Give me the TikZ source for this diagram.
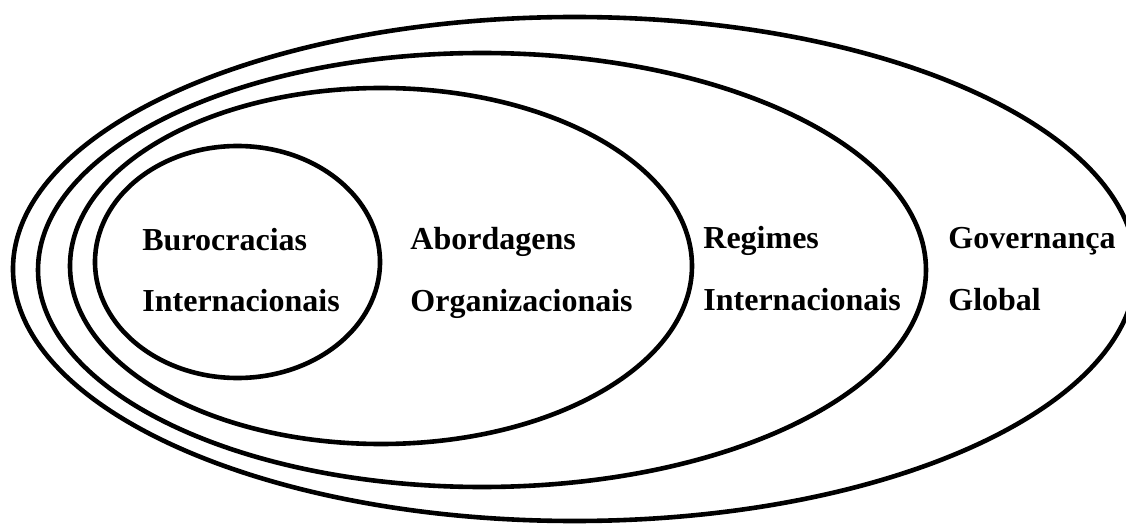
\documentclass[tikz,border=0pt]{standalone}
\usepackage{fontspec}
\setmainfont{Liberation Serif}
\usetikzlibrary{
  positioning,
  shapes.geometric
}

\begin{document}
\begin{tikzpicture}[
      x=0.5pt, y=-0.5pt,
      anel/.style={draw=black, ellipse, line width=2.3pt, inner sep=0pt},
      rotulo/.style={anchor=base west, align=left, inner sep=0pt,
                     font=\fontsize{16}{31}\selectfont\bfseries}
  ]
      \useasboundingbox (0,0) rectangle (1126,524);

      % Elipses aninhadas (de fora para dentro)
      \node[anel, minimum width=561.5pt, minimum height=252pt] (gov) at (574.5,269) {};
      \node[anel, minimum width=444pt, minimum height=217pt] (reg) at (482,270) {};
      \node[anel, minimum width=311pt, minimum height=178pt] (abo) at (381,266) {};
      \node[anel, minimum width=142.5pt, minimum height=116pt] (bur) at (237.5,262) {};

      % Rótulos de cada nível (âncora na linha de base da segunda linha)
      \node[rotulo] (tbur) at (142,312) {Burocracias\\Internacionais};
      \node[rotulo] (tabo) at (410,311) {Abordagens\\Organizacionais};
      \node[rotulo] (treg) at (703,310) {Regimes\\Internacionais};
      \node[rotulo] (tgov) at (948,310) {Governança\\Global};
  \end{tikzpicture}
\end{document}
